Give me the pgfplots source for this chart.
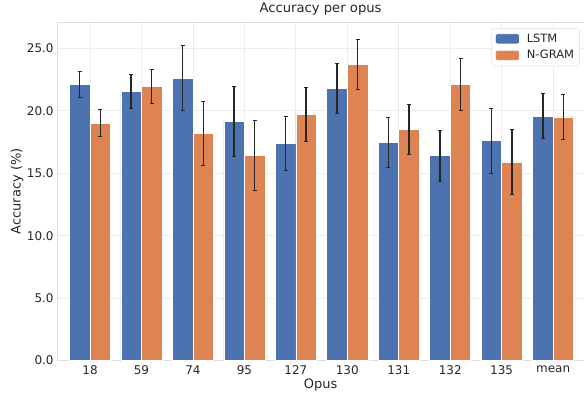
\documentclass[border=0pt]{standalone}
\usepackage{pgfplots}
\pgfplotsset{compat=1.18}
\usepackage{pgfplotstable}
\usepackage{fontspec}
\setmainfont{DejaVu Sans}
\definecolor{sbblue}{HTML}{4C72B0}
\definecolor{sborange}{HTML}{DD8452}
\definecolor{gridc}{HTML}{EBEBEB}
\definecolor{framec}{HTML}{DDDDDD}
\definecolor{textc}{HTML}{262626}
\pgfplotstableread{
x y err
0 22.1 1.05
1 21.55 1.35
2 22.6 2.6
3 19.15 2.8
4 17.4 2.15
5 21.8 2.0
6 17.47 2.0
7 16.4 2.05
8 17.6 2.6
9 19.55 1.8
}\lstm
\pgfplotstableread{
x y err
0 19.0 1.1
1 21.95 1.35
2 18.2 2.55
3 16.4 2.8
4 19.7 2.15
5 23.7 2.0
6 18.5 1.98
7 22.1 2.05
8 15.9 2.6
9 19.5 1.78
}\ngram
\begin{document}
\begin{tikzpicture}[x=1bp,y=1bp]
\begin{axis}[
  name=ax,
  scale only axis,
  width=526bp, height=338bp,
  xmin=-0.64, xmax=9.6,
  ymin=0, ymax=27.1,
  xtick={0,...,9},
  xticklabels={18,59,74,95,127,130,131,132,135,mean},
  ytick={0,5,10,15,20,25},
  yticklabel style={/pgf/number format/.cd,fixed,fixed zerofill,precision=1},
  /pgf/number format/assume math mode=true,
  ticklabel style={font=\fontsize{12}{14}\selectfont, text=textc},
  xticklabel style={yshift=-1.5bp},
  major tick length=0pt,
  grid=major,
  major grid style={gridc, line width=0.8bp},
  axis line style={framec, line width=0.8bp},
  title={Accuracy per opus},
  title style={font=\fontsize{13.2}{15}\selectfont, text=textc, at={(axis description cs:0.5,1.021)}, anchor=center},
  xlabel={Opus},
  ylabel={Accuracy (\%)},
  label style={font=\fontsize{13}{15}\selectfont, text=textc},
  xlabel style={at={(axis description cs:0.5,-0.071)}, anchor=center},
  ylabel style={at={(axis description cs:-0.076,0.5)}, anchor=center},
  legend style={at={(0.992,0.982)}, anchor=north east, draw=framec, rounded corners=2bp,
    font=\fontsize{11.5}{13}\selectfont, text=textc, row sep=2.5bp, inner sep=3.5bp},
  legend cell align=left,
  legend image code/.code={\fill[#1] (0bp,-5bp) rectangle (24bp,5bp); \path (29bp,0bp);},
]
\addplot[ybar, bar width=0.4, bar shift=0, fill=sbblue, draw=white, line width=0.6bp,
  error bars/.cd, y dir=both, y explicit,
  error bar style={line width=1.4bp, color=textc},
  error mark options={rotate=90, mark size=2bp, line width=1bp, color=textc}]
  table[x expr=\thisrow{x}-0.2, y=y, y error=err]{\lstm};
\addlegendentry{LSTM}
\addplot[ybar, bar width=0.4, bar shift=0, fill=sborange, draw=white, line width=0.6bp,
  error bars/.cd, y dir=both, y explicit,
  error bar style={line width=1.4bp, color=textc},
  error mark options={rotate=90, mark size=2bp, line width=1bp, color=textc}]
  table[x expr=\thisrow{x}+0.2, y=y, y error=err]{\ngram};
\addlegendentry{N-GRAM}
\end{axis}
\pgfresetboundingbox
\path[use as bounding box] ([shift={(-57bp,-34bp)}]ax.south west) rectangle ([shift={(0bp,22bp)}]ax.north east);
\end{tikzpicture}
\end{document}
